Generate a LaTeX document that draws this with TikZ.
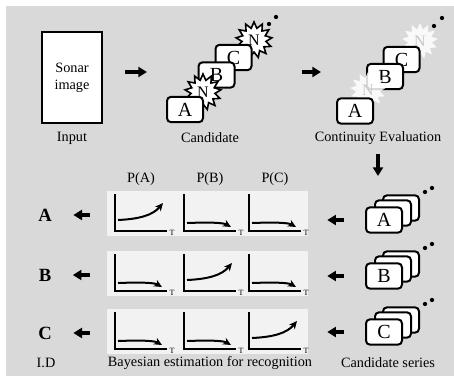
\documentclass[tikz,border=0pt]{standalone}
\usepackage{fontspec}
\setmainfont{Liberation Serif}
\usetikzlibrary{arrows.meta,positioning,shapes.geometric}
\definecolor{BgGray}{HTML}{D9D9D9}
\definecolor{PanelGray}{HTML}{F2F2F2}

\begin{document}
\begin{tikzpicture}[x=.75pt,y=-.75pt,
  font=\fontsize{10.7}{12.5}\selectfont,
  card/.style={draw,line width=1.5pt,rounded corners=3pt,fill=white,minimum width=27pt,minimum height=19pt,inner sep=0pt,font=\fontsize{15}{15}\selectfont},
  burst/.style={star,star points=13,star point ratio=1.5,fill=white,minimum size=27pt,inner sep=0pt,font=\fontsize{12}{12}\selectfont},
  ghost/.style={burst,fill opacity=.85,text=black!22,text opacity=1},
  flow/.style={line width=2.6pt,-{Triangle[length=6.5pt,width=7.5pt]}},
  axis/.style={line width=1.5pt},
  trend/.style={line width=1.5pt,-{Stealth[length=6pt,width=5.5pt]}},
  panel/.style={fill=PanelGray,minimum width=150.75pt,minimum height=33.75pt,inner sep=0pt},
  dot/.style={circle,fill,inner sep=0pt,minimum size=3.2pt},
  tick/.style={font=\fontsize{6}{6}\selectfont,inner sep=0pt}]
\useasboundingbox (0,0) rectangle (454,376);
\fill[BgGray] (6,6) rectangle (454,376);
\node[draw,line width=1.8pt,fill=white,minimum width=45pt,minimum height=68pt,align=center] (sonar) at (72,77.5) {Sonar\\image};
\node (inLbl) at (72,138) {Input};
\node[burst,draw,line width=1.2pt] (candN2) at (254,40) {N};
\node[card] (candC) at (233.5,57.5) {C};
\node[card] (candB) at (216.5,75) {B};
\node[burst,draw,line width=1.2pt] (candN1) at (203,92) {N};
\node[card] (candA) at (185,109.5) {A};
\node[dot] (candD1) at (269,24) {};
\node[dot] (candD2) at (276,17) {};
\node (candLbl) at (210,138) {Candidate};
\node[ghost] (evalN2) at (420,41) {N};
\node[card] (evalC) at (401.5,59.5) {C};
\node[card] (evalB) at (385,76.5) {B};
\node[ghost] (evalN1) at (368,90) {N};
\node[card] (evalA) at (355,111) {A};
\node[dot] (evalD1) at (434,26) {};
\node[dot] (evalD2) at (442,18) {};
\node (evalLbl) at (378,138) {Continuity Evaluation};
\coordinate (f1) at (125,72); \coordinate (f2) at (147,72);
\coordinate (f3) at (302,72); \coordinate (f4) at (321,72);
\coordinate (f5) at (378,154); \coordinate (f6) at (378,176);
\draw[flow] (f1) -- (f2);
\draw[flow] (f3) -- (f4);
\draw[flow] (f5) -- (f6);
\foreach \p/\x in {A/141,B/210,C/275}{
\node (prob\p) at (\x,179) {P(\p)};}
\foreach \r/\y/\s [count=\i] in {A/213/220,B/273/276,C/331/332}{
  \node[panel] (row\r) at (207.5,\y) {};
  \foreach \x [count=\j] in {115,184,249}{
    \draw[axis] (\x,\y-19) -- (\x,\y+18) -- (\x+52,\y+18);
    \node[tick] (t\r\j) at (\x+57,\y+19.5) {T};
    \ifnum\i=\j
      \draw[trend] (\x+3,\y+7) .. controls (\x+25,\y+6) and (\x+38,\y+2) .. (\x+48,\y-10);
    \else
      \draw[trend] (\x+3,\y+10) .. controls (\x+30,\y+9) and (\x+40,\y+10) .. (\x+47,\y+14);
    \fi}
  \node[font=\fontsize{14}{14}\selectfont\bfseries,inner sep=0pt] (id\r) at (45,\y+2) {\r};
  \node[card] (ser\r3) at (401,\s-12) {};
  \node[card] (ser\r2) at (393,\s-7) {};
  \node[card] (ser\r1) at (384,\s) {\r};
  \node[dot] (serD\r1) at (425,\s-28) {};
  \node[dot] (serD\r2) at (432,\s-32) {};
  \draw[flow,shorten <=12.75pt,shorten >=16pt] (id\r.east -| row\r.west) -- (id\r.east);
  \draw[flow,shorten <=15.75pt,shorten >=14.25pt] (ser\r1.west) -- (ser\r1.west -| row\r.east);
}
\node (idLbl) at (46,363) {I.D};
\node (bayLbl) at (210,363) {Bayesian estimation for recognition};
\node (serLbl) at (388,363) {Candidate series};
\end{tikzpicture}
\end{document}
